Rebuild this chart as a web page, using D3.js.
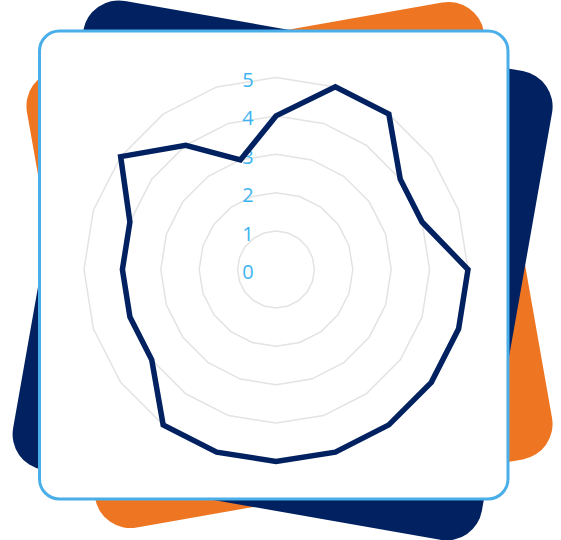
<!DOCTYPE html>
<html>
<head>
<meta charset="utf-8">
<script src="https://cdn.jsdelivr.net/npm/d3@7"></script>
<style>
  html, body { margin: 0; padding: 0; background: #fff; }
  svg { display: block; }
</style>
</head>
<body>
<div id="chart"></div>
<script>
// radar data, 20 spokes, clockwise from the top
const spokes = d3.range(20)
const scores = [4, 5, 5, 4, 4, 5, 5, 5, 5, 5, 5, 5, 5, 4, 4, 4, 4, 5, 4, 3]
const tickLevels = [1, 2, 3, 4, 5]
const tickLabels = ['0', '1', '2', '3', '4', '5']

const W = 561, H = 540
const cx = 276, cy = 269.5
const navy = '#012160', orange = '#ee7623', cardBlue = '#4aaee8'

const svg = d3.select('#chart').append('svg')
    .attr('width', W).attr('height', H)

// decorative rotated squares behind the card
svg.append('rect')
    .attr('x', 289.5 - 232).attr('y', 265 - 232)
    .attr('width', 464).attr('height', 464)
    .attr('rx', 36)
    .attr('fill', orange)
    .attr('transform', 'rotate(-10,289.5,265)')
svg.append('rect')
    .attr('x', 282.6 - 238).attr('y', 270.4 - 238)
    .attr('width', 476).attr('height', 476)
    .attr('rx', 36)
    .attr('fill', navy)
    .attr('transform', 'rotate(10,282.6,270.4)')

// card
svg.append('rect')
    .attr('x', 39.5).attr('y', 31)
    .attr('width', 468.5).attr('height', 468)
    .attr('rx', 20)
    .attr('fill', '#fff')
    .attr('stroke', cardBlue)
    .attr('stroke-width', 3)

const r = d3.scaleLinear().domain([0, 5]).range([0, 192])
const angle = d3.scaleLinear().domain([0, spokes.length]).range([0, 2 * Math.PI])

const g = svg.append('g').attr('transform', `translate(${cx},${cy})`)

const ring = d3.lineRadial()
    .angle(i => angle(i))
    .curve(d3.curveLinearClosed)

// grid rings
g.selectAll('.ring')
    .data(tickLevels)
    .enter().append('path')
    .attr('class', 'ring')
    .attr('d', lv => ring.radius(() => r(lv))(spokes))
    .attr('fill', 'none')
    .attr('stroke', '#e3e3e3')
    .attr('stroke-width', 1.5)

// tick labels
g.selectAll('.tick')
    .data(tickLabels)
    .enter().append('text')
    .attr('class', 'tick')
    .attr('x', -28)
    .attr('y', (d, i) => -r(i) + 9.5)
    .attr('text-anchor', 'middle')
    .attr('font-family', "'Open Sans', 'Noto Sans', sans-serif")
    .attr('font-size', 20)
    .attr('fill', '#3db4ef')
    .text(d => d)

// data line
const line = d3.lineRadial()
    .angle((d, i) => angle(i))
    .radius(d => r(d))
    .curve(d3.curveLinearClosed)

g.append('path')
    .datum(scores)
    .attr('d', line)
    .attr('fill', 'none')
    .attr('stroke', navy)
    .attr('stroke-width', 5.5)
    .attr('stroke-linejoin', 'miter')
</script>
</body>
</html>
